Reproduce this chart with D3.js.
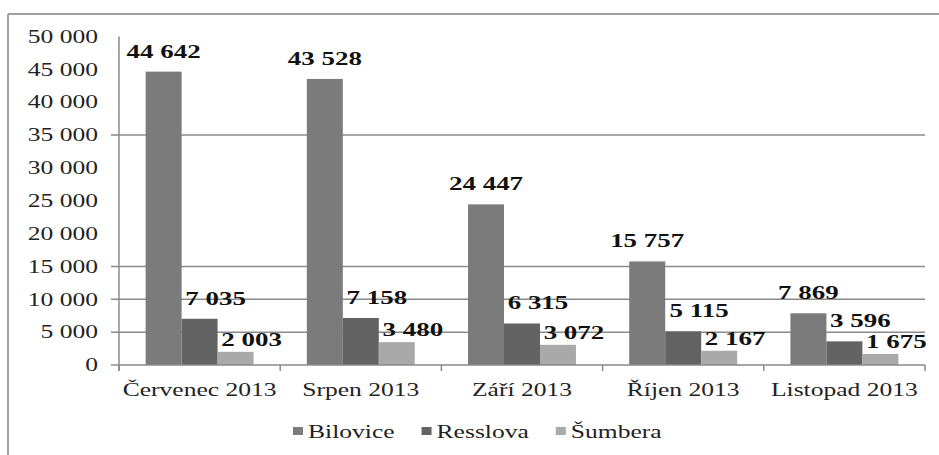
<!DOCTYPE html>
<html>
<head>
<meta charset="utf-8">
<script src="https://cdn.jsdelivr.net/npm/d3@7"></script>
<style>
  body { margin: 0; background: #fff; }
</style>
</head>
<body>
<svg id="chart" width="939" height="455" font-family="'Liberation Serif', 'DejaVu Serif', serif"></svg>
<script>
// Monthly counts per site, July–November 2013
const categories = ["Červenec 2013", "Srpen 2013", "Září 2013", "Říjen 2013", "Listopad 2013"];
const seriesNames = ["Bilovice", "Resslova", "Šumbera"];
const bilovice = [44642, 43528, 24447, 15757, 7869];
const resslova = [7035, 7158, 6315, 5115, 3596];
const sumbera  = [2003, 3480, 3072, 2167, 1675];
const yTickValues = [0, 5000, 10000, 15000, 20000, 25000, 30000, 35000, 40000, 45000, 50000];
const gridValues = [35000, 15000, 10000, 5000];

const seriesValues = [bilovice, resslova, sumbera];
const seriesColors = ["#7b7b7b", "#636363", "#a9a9a9"];
const labelNudgeX = [0, 16, 16];
const labelGap = [14, 14, 6];

// Text in this chart is set wide; stretch glyphs horizontally
const SX = 1.42;

const czech = d3.formatLocale({ decimal: ",", thousands: " ", grouping: [3], currency: ["", " Kč"] });
const fmt = czech.format(",");

const svg = d3.select("#chart");

const plot = { left: 119, right: 925, top: 36.4, bottom: 365 };

const x0 = d3.scaleBand().domain(categories).range([plot.left, plot.right]).padding(0);
const x1 = d3.scaleBand().domain(seriesNames).range([0, x0.bandwidth()]).paddingInner(0).paddingOuter(0.74);
const y = d3.scaleLinear().domain([0, 50000]).range([plot.bottom, plot.top]);

function place(sel, px, py) {
  return sel.attr("transform", `translate(${px},${py}) scale(${SX},1)`);
}

// Outer frame (left and top edges)
svg.append("line").attr("x1", 8).attr("x2", 8).attr("y1", 14).attr("y2", 455)
  .attr("stroke", "#a0a0a0").attr("stroke-width", 2);
svg.append("line").attr("x1", 8).attr("x2", 939).attr("y1", 14).attr("y2", 14)
  .attr("stroke", "#a0a0a0").attr("stroke-width", 2);

// Horizontal grid lines
svg.append("g").selectAll("line").data(gridValues).join("line")
  .attr("x1", plot.left - 8).attr("x2", plot.right)
  .attr("y1", d => y(d)).attr("y2", d => y(d))
  .attr("stroke", "#8a8a8a").attr("stroke-width", 1.5);

// Y axis labels
svg.append("g").selectAll("text").data(yTickValues).join("text")
  .each(function (d) { place(d3.select(this), 98, y(d)); })
  .attr("text-anchor", "end").attr("dy", "0.35em")
  .attr("font-size", 18).attr("fill", "#222")
  .text(d => fmt(d));

// Bars
const groups = svg.append("g").selectAll("g").data(categories).join("g")
  .attr("transform", d => `translate(${x0(d)},0)`);

groups.selectAll("rect")
  .data((c, i) => seriesNames.map((s, k) => ({ s, k, v: seriesValues[k][i] })))
  .join("rect")
  .attr("x", d => x1(d.s))
  .attr("width", x1.bandwidth())
  .attr("y", d => y(d.v))
  .attr("height", d => y(0) - y(d.v))
  .attr("fill", d => seriesColors[d.k]);

// Y axis line and baseline
svg.append("line").attr("x1", plot.left).attr("x2", plot.left)
  .attr("y1", plot.top).attr("y2", plot.bottom + 6)
  .attr("stroke", "#8a8a8a").attr("stroke-width", 1.5);
svg.append("line").attr("x1", plot.left - 8).attr("x2", plot.right)
  .attr("y1", plot.bottom).attr("y2", plot.bottom)
  .attr("stroke", "#8a8a8a").attr("stroke-width", 1.5);

// Category boundary ticks
const boundaries = categories.map(c => x0(c)).concat([plot.right]);
svg.append("g").selectAll("line").data(boundaries).join("line")
  .attr("x1", d => d).attr("x2", d => d)
  .attr("y1", plot.bottom).attr("y2", plot.bottom + 6)
  .attr("stroke", "#8a8a8a").attr("stroke-width", 1.5);

// Value labels
groups.selectAll("text.val")
  .data((c, i) => seriesNames.map((s, k) => ({ s, k, v: seriesValues[k][i] })))
  .join("text").attr("class", "val")
  .each(function (d) {
    place(d3.select(this), x1(d.s) + x1.bandwidth() / 2 + labelNudgeX[d.k], y(d.v) - labelGap[d.k]);
  })
  .attr("text-anchor", "middle")
  .attr("font-size", 19).attr("font-weight", "bold").attr("fill", "#111")
  .text(d => fmt(d.v));

// Category labels
svg.append("g").selectAll("text").data(categories).join("text")
  .each(function (d) { place(d3.select(this), x0(d) + x0.bandwidth() / 2, 396); })
  .attr("text-anchor", "middle").attr("font-size", 18).attr("fill", "#222")
  .text(d => d);

// Legend
const legend = svg.append("g");
let lx = 293;
seriesNames.forEach((name, k) => {
  legend.append("rect").attr("x", lx).attr("y", 427).attr("width", 10).attr("height", 8)
    .attr("fill", seriesColors[k]);
  const t = legend.append("text").attr("font-size", 18).attr("fill", "#222").text(name);
  place(t, lx + 15, 438);
  const w = t.node().getComputedTextLength() * SX;
  lx += 15 + w + 27;
});
</script>
</body>
</html>
